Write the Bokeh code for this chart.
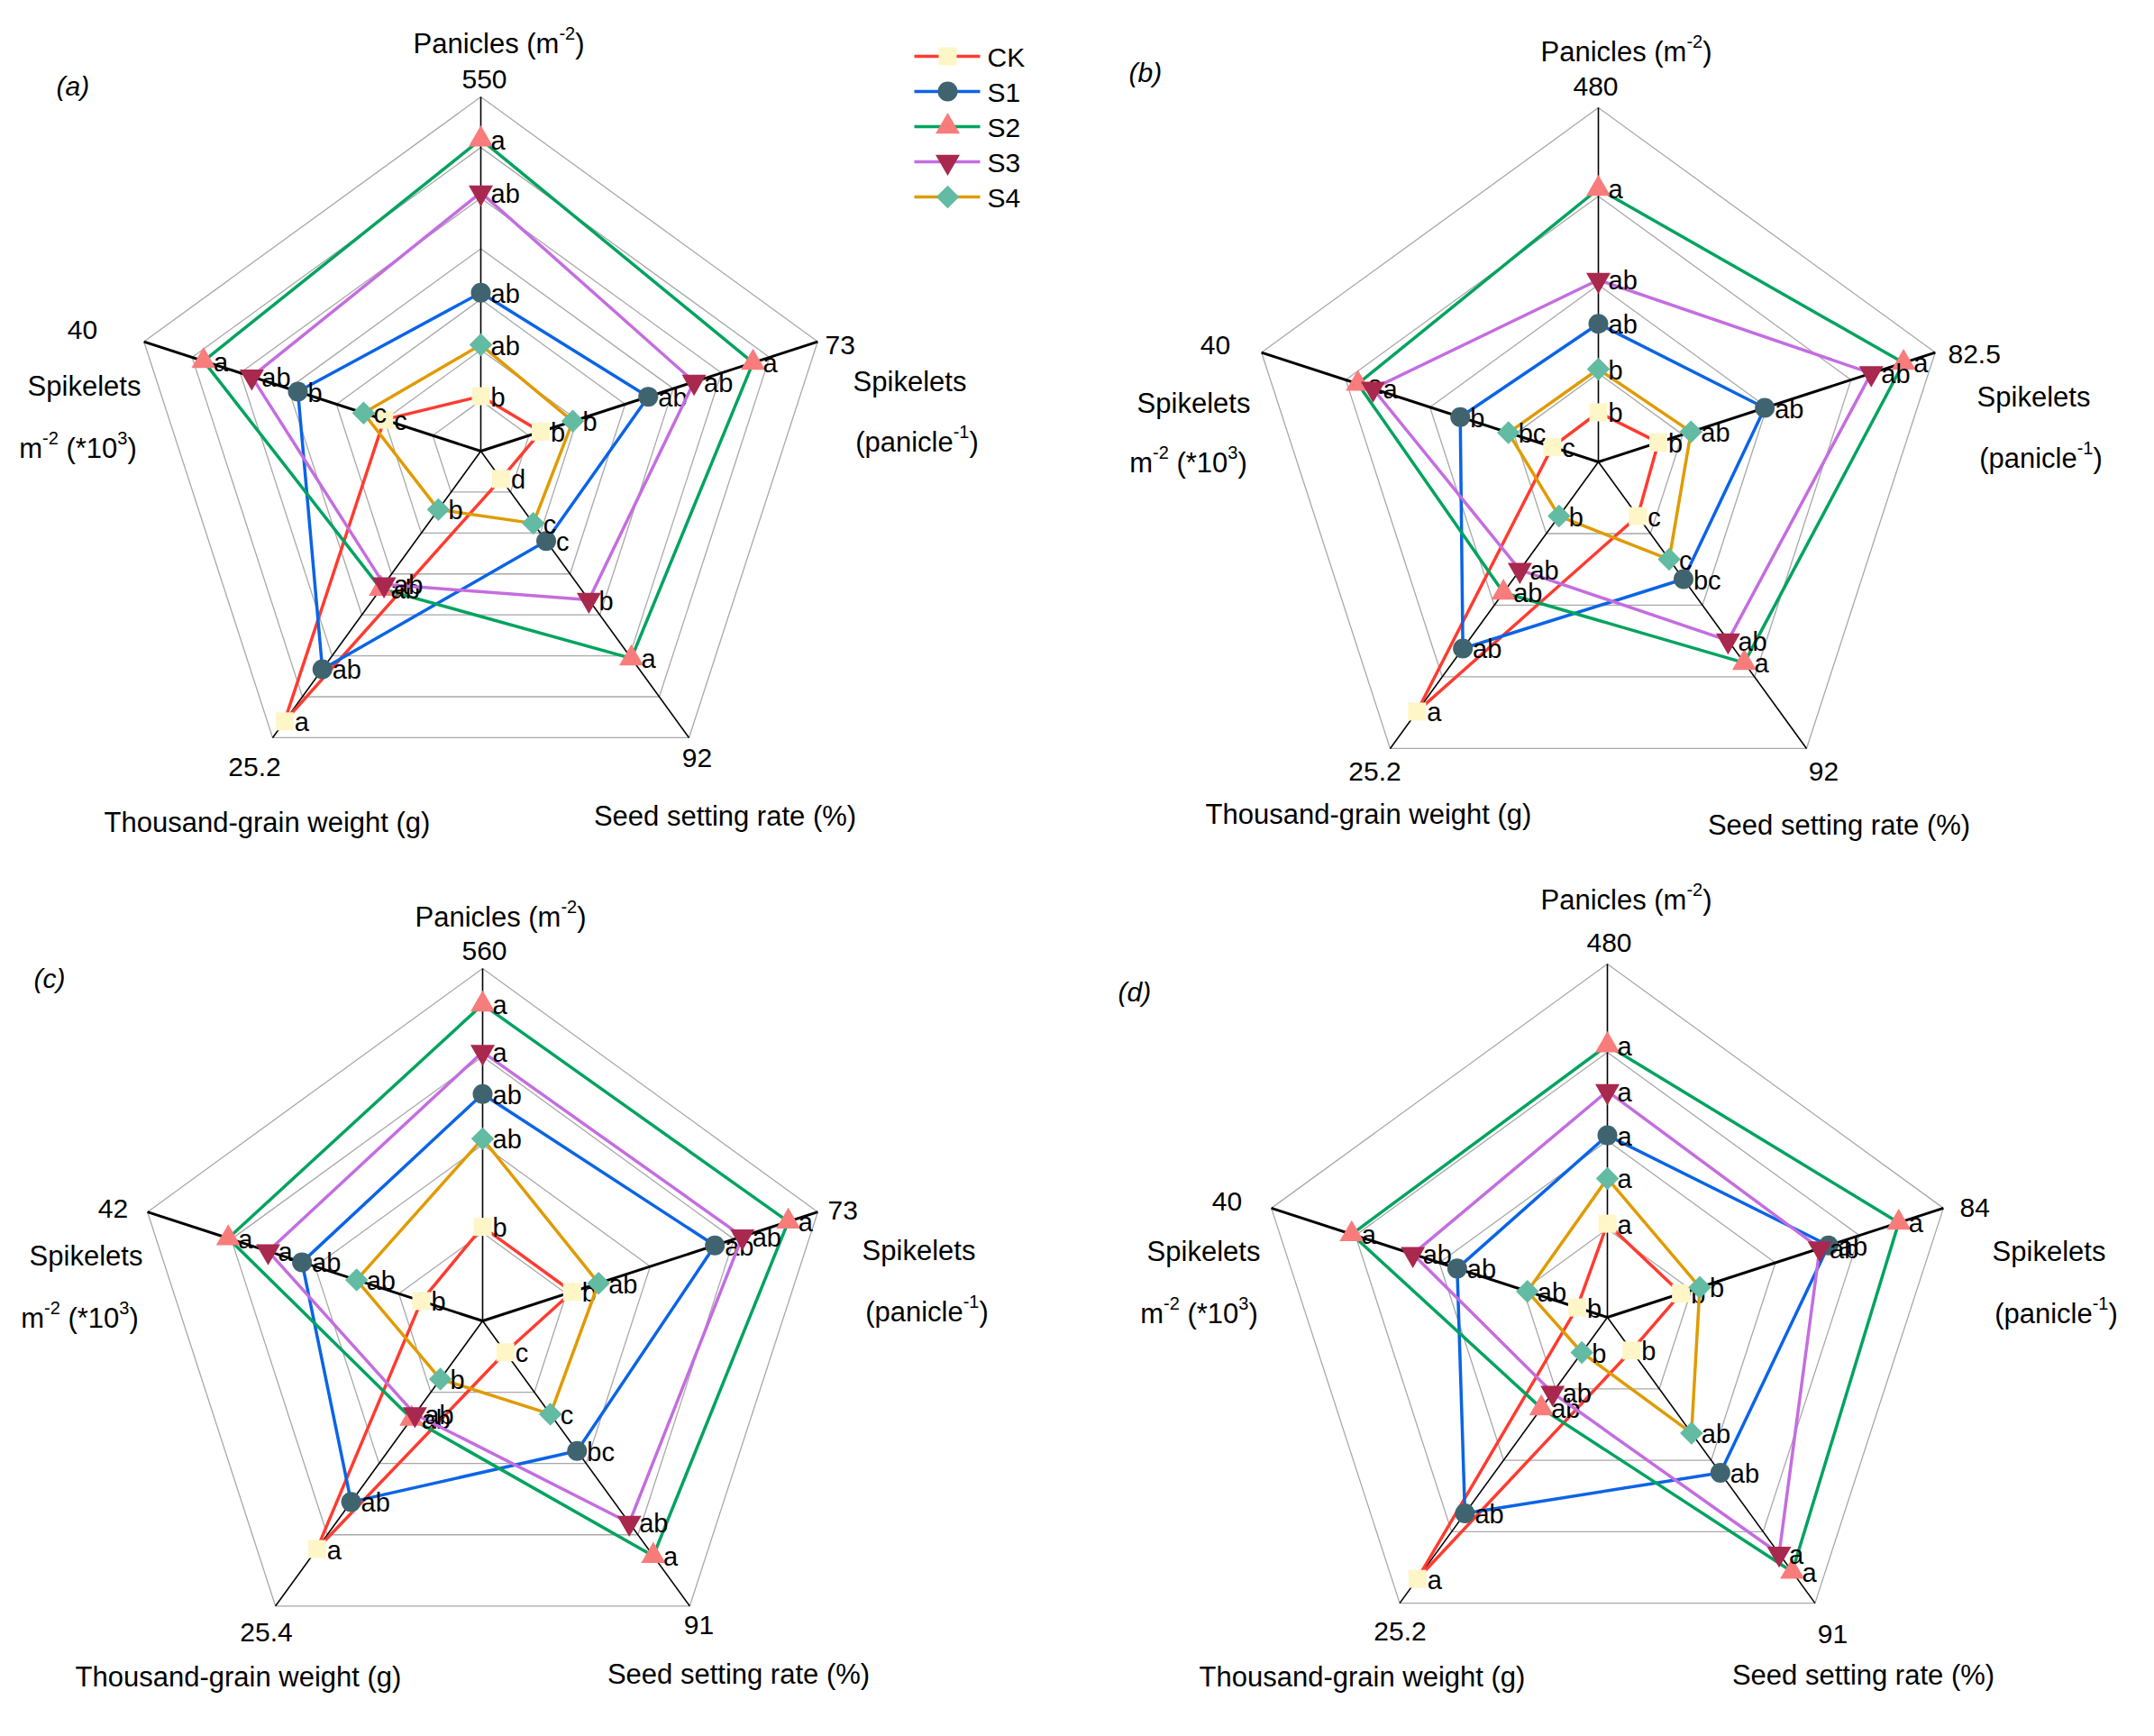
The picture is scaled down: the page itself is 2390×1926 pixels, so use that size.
import math
from bokeh.plotting import figure
from bokeh.models import Range1d
from bokeh.embed import file_html
from bokeh.resources import INLINE
from bokeh.core.properties import value

FONT = "Liberation Sans"

# Axis order (clockwise from top)
AXES = ["Panicles", "Spikelets per panicle", "Seed setting rate", "Thousand-grain weight", "Spikelets m-2"]
SERIES = ["CK", "S1", "S2", "S3", "S4"]

# Relative position on each axis (0 = centre, 1 = labelled maximum), order as AXES
A_CK = [0.155, 0.178, 0.097, 0.943, 0.287]
A_S1 = [0.447, 0.497, 0.314, 0.761, 0.543]
A_S2 = [0.88, 0.808, 0.723, 0.48, 0.823]
A_S3 = [0.73, 0.633, 0.519, 0.465, 0.680]
A_S4 = [0.30, 0.273, 0.252, 0.204, 0.348]
A_CK_L = ["b", "b", "d", "a", "c"]
A_S1_L = ["ab", "ab", "c", "ab", "b"]
A_S2_L = ["a", "a", "a", "ab", "a"]
A_S3_L = ["ab", "ab", "b", "ab", "ab"]
A_S4_L = ["ab", "b", "c", "b", "c"]
A_MAX = ["550", "73", "92", "25.2", "40"]

B_CK = [0.14, 0.178, 0.189, 0.871, 0.137]
B_S1 = [0.39, 0.494, 0.409, 0.651, 0.410]
B_S2 = [0.771, 0.906, 0.701, 0.456, 0.714]
B_S3 = [0.514, 0.810, 0.623, 0.377, 0.669]
B_S4 = [0.262, 0.275, 0.34, 0.189, 0.267]
B_CK_L = ["b", "b", "c", "a", "c"]
B_S1_L = ["ab", "ab", "bc", "ab", "b"]
B_S2_L = ["a", "a", "a", "ab", "a"]
B_S3_L = ["ab", "ab", "ab", "ab", "a"]
B_S4_L = ["b", "ab", "c", "b", "bc"]
B_MAX = ["480", "82.5", "92", "25.2", "40"]

C_CK = [0.267, 0.267, 0.11, 0.80, 0.183]
C_S1 = [0.644, 0.693, 0.456, 0.635, 0.539]
C_S2 = [0.898, 0.912, 0.824, 0.343, 0.759]
C_S3 = [0.763, 0.775, 0.708, 0.327, 0.640]
C_S4 = [0.517, 0.346, 0.327, 0.204, 0.376]
C_CK_L = ["b", "b", "c", "a", "b"]
C_S1_L = ["ab", "ab", "bc", "ab", "ab"]
C_S2_L = ["a", "a", "a", "ab", "a"]
C_S3_L = ["a", "ab", "ab", "ab", "a"]
C_S4_L = ["ab", "ab", "c", "b", "ab"]
C_MAX = ["560", "73", "91", "25.4", "42"]

D_CK = [0.265, 0.219, 0.116, 0.915, 0.090]
D_S1 = [0.515, 0.658, 0.544, 0.686, 0.447]
D_S2 = [0.77, 0.867, 0.89, 0.318, 0.761]
D_S3 = [0.64, 0.632, 0.827, 0.264, 0.579]
D_S4 = [0.393, 0.275, 0.405, 0.123, 0.238]
D_CK_L = ["a", "b", "b", "a", "b"]
D_S1_L = ["a", "ab", "ab", "ab", "ab"]
D_S2_L = ["a", "a", "a", "ab", "a"]
D_S3_L = ["a", "ab", "a", "ab", "ab"]
D_S4_L = ["a", "b", "ab", "b", "ab"]
D_MAX = ["480", "84", "91", "25.2", "40"]

# styles
LINE_COL = {"CK": "#FF3B30", "S1": "#0A64E6", "S2": "#00A35F", "S3": "#C46DE0", "S4": "#E09B00"}
MK_COL = {"CK": "#FFF6C8", "S1": "#3F6470", "S2": "#F87C7C", "S3": "#A8284E", "S4": "#62BBA2"}
MK_SHAPE = {"CK": "square", "S1": "circle", "S2": "triangle", "S3": "inverted_triangle", "S4": "square"}
MK_SIZE = {"CK": 20, "S1": 22, "S2": 27, "S3": 27, "S4": 18}
MK_ANGLE = {"CK": 0, "S1": 0, "S2": 0, "S3": 0, "S4": math.pi / 4}

ANGLES = [90, 18, -54, 234, 162]

# panel geometry: tag, centre x, centre y, radius, rings
PANELS = [
    ("(a)", 541, 508, 393, 7,
     [A_CK, A_S1, A_S2, A_S3, A_S4], [A_CK_L, A_S1_L, A_S2_L, A_S3_L, A_S4_L], A_MAX,
     dict(top_name=(561, 53), top_max=(545, 95), ur_max=(923, 390), ur_n1=(1017, 428), ur_n2=(1025, 495),
          lr_max=(781, 848), lr_name=(812, 910), ll_max=(290, 858), ll_name=(304, 917),
          ul_max=(99, 373), ul_n1=(101, 433), ul_n2=(94, 502), tag=(70, 100))),
    ("(b)", 1781, 520, 393, 4,
     [B_CK, B_S1, B_S2, B_S3, B_S4], [B_CK_L, B_S1_L, B_S2_L, B_S3_L, B_S4_L], B_MAX,
     dict(top_name=(1812, 62), top_max=(1778, 103), ur_max=(2169, 400), ur_n1=(2264, 445), ur_n2=(2272, 513),
          lr_max=(2031, 863), lr_name=(2048, 920), ll_max=(1533, 863), ll_name=(1526, 908),
          ul_max=(1356, 390), ul_n1=(1332, 452), ul_n2=(1326, 518), tag=(1260, 85))),
    ("(c)", 543, 1473, 391, 4,
     [C_CK, C_S1, C_S2, C_S3, C_S4], [C_CK_L, C_S1_L, C_S2_L, C_S3_L, C_S4_L], C_MAX,
     dict(top_name=(563, 1022), top_max=(545, 1062), ur_max=(926, 1350), ur_n1=(1027, 1392), ur_n2=(1036, 1460),
          lr_max=(783, 1810), lr_name=(827, 1862), ll_max=(303, 1818), ll_name=(272, 1865),
          ul_max=(133, 1348), ul_n1=(103, 1398), ul_n2=(96, 1467), tag=(45, 1090))),
    ("(d)", 1791, 1469, 392, 4,
     [D_CK, D_S1, D_S2, D_S3, D_S4], [D_CK_L, D_S1_L, D_S2_L, D_S3_L, D_S4_L], D_MAX,
     dict(top_name=(1812, 1003), top_max=(1793, 1053), ur_max=(2182, 1347), ur_n1=(2281, 1393), ur_n2=(2289, 1462),
          lr_max=(2041, 1820), lr_name=(2075, 1863), ll_max=(1561, 1817), ll_name=(1519, 1865),
          ul_max=(1369, 1340), ul_n1=(1343, 1393), ul_n2=(1338, 1462), tag=(1248, 1105))),
]

# Arial / Liberation Sans advance widths (per 1000 em)
WID = {" ": 278, "(": 333, ")": 333, "*": 389, "-": 333, "%": 889, ".": 278,
       "P": 667, "S": 667, "T": 611, "C": 722, "K": 667,
       "a": 556, "b": 556, "c": 500, "d": 556, "e": 556, "g": 556, "h": 556, "i": 222,
       "k": 500, "l": 222, "m": 833, "n": 556, "o": 556, "p": 556, "r": 333, "s": 500,
       "t": 278, "u": 556, "w": 722}


def tw(s, fs):
    return sum(WID.get(ch, 556) for ch in s) * fs / 1000.0


p = figure(width=2374, height=1910, x_range=Range1d(8, 2382), y_range=Range1d(1918, 8),
           x_axis_type=None, y_axis_type=None,
           output_backend="svg", toolbar_location=None, min_border=0)
p.outline_line_color = None
p.background_fill_color = "white"
p.border_fill_color = "white"

NAME_FS = 31


def txt(x, y, s, fs=NAME_FS, align="center", italic=False, baseline="middle"):
    p.text(x=[x], y=[y], text=[s], text_font=value(FONT), text_font_size=f"{fs}px",
           text_align=align, text_baseline=baseline, text_color="black",
           text_font_style="italic" if italic else "normal")


def rich(x, y, segs, fs=NAME_FS, sfs=20, rise=12, align="center"):
    widths = [tw(t, sfs if s else fs) for t, s in segs]
    total = sum(widths)
    x0 = x - total / 2.0 if align == "center" else x
    for (t, s), w in zip(segs, widths):
        f = sfs if s else fs
        lead = len(t) - len(t.lstrip(" "))
        xs = x0 + tw(" " * lead, f)
        txt(xs, y - rise if s else y, t.lstrip(" "), fs=f, align="left")
        x0 += w


for tag, cx, cy, r, nrings, data, letters, maxes, L in PANELS:
    def pt(frac, k):
        a = math.radians(ANGLES[k])
        return cx + r * frac * math.cos(a), cy - r * frac * math.sin(a)

    # rings
    xs_r, ys_r = [], []
    for j in range(1, nrings + 1):
        pts = [pt(j / nrings, k) for k in range(5)] + [pt(j / nrings, 0)]
        xs_r.append([q[0] for q in pts])
        ys_r.append([q[1] for q in pts])
    p.multi_line(xs_r, ys_r, line_color="#A8A8A8", line_width=1.3)
    # spokes
    for k in range(5):
        ex, ey = pt(1.0, k)
        p.segment(x0=[cx], y0=[cy], x1=[ex], y1=[ey], line_color="black",
                  line_width=3 if k in (1, 4) else 1.6)
    # series
    for si, name in enumerate(SERIES):
        vals = data[si]
        pts = [pt(v, k) for k, v in enumerate(vals)]
        xs = [q[0] for q in pts]
        ys = [q[1] for q in pts]
        p.line(xs + [xs[0]], ys + [ys[0]], line_color=LINE_COL[name], line_width=3.5)
        p.scatter(xs, ys, marker=MK_SHAPE[name], size=MK_SIZE[name], angle=MK_ANGLE[name],
                  fill_color=MK_COL[name], line_color=None)
        p.text(x=[x + 11 for x in xs], y=[y + 1 for y in ys], text=letters[si],
               text_font=value(FONT), text_font_size="29px", text_align="left",
               text_baseline="middle", text_color="black")
    # axis texts
    rich(L["top_name"][0], L["top_name"][1] + 3, [("Panicles (m", False), ("-2", True), (")", False)])
    txt(L["top_max"][0], L["top_max"][1], maxes[0], fs=30)
    txt(L["ur_max"][0], L["ur_max"][1], maxes[1], fs=30, align="left")
    txt(L["ur_n1"][0], L["ur_n1"][1] + 3, "Spikelets")
    rich(L["ur_n2"][0], L["ur_n2"][1] + 3, [("(panicle", False), ("-1", True), (")", False)])
    txt(L["lr_max"][0], L["lr_max"][1], maxes[2], fs=30)
    txt(L["lr_name"][0], L["lr_name"][1] + 3, "Seed setting rate (%)")
    txt(L["ll_max"][0], L["ll_max"][1], maxes[3], fs=30)
    txt(L["ll_name"][0], L["ll_name"][1] + 3, "Thousand-grain weight (g)")
    txt(L["ul_max"][0], L["ul_max"][1], maxes[4], fs=30)
    txt(L["ul_n1"][0], L["ul_n1"][1] + 3, "Spikelets")
    rich(L["ul_n2"][0], L["ul_n2"][1] + 3, [("m", False), ("-2", True), (" (*10", False), ("3", True), (")", False)])
    txt(L["tag"][0], L["tag"][1] + 3, tag, fs=30, align="left", italic=True)

# legend
LEG_ROWS = [70, 109, 148, 187, 226]
for name, ry in zip(SERIES, LEG_ROWS):
    p.segment(x0=[1022], y0=[ry], x1=[1095], y1=[ry], line_color=LINE_COL[name], line_width=3.5)
    p.scatter([1059], [ry], marker=MK_SHAPE[name], size=MK_SIZE[name], angle=MK_ANGLE[name],
              fill_color=MK_COL[name], line_color=None)
    txt(1103, ry + 1, name, fs=30, align="left")

open("out.html", "w").write(file_html(p, INLINE))
